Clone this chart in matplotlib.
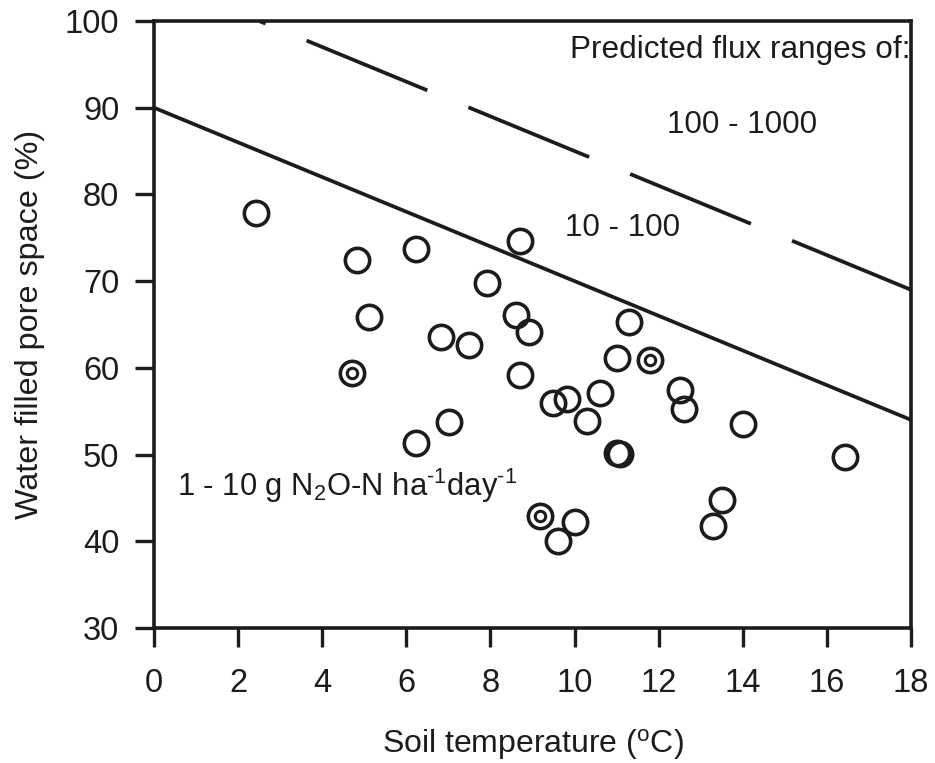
import matplotlib
matplotlib.use("Agg")
import matplotlib.pyplot as plt

plt.rcParams['font.family'] = ['Liberation Sans', 'DejaVu Sans']
plt.rcParams['mathtext.fontset'] = 'custom'
plt.rcParams['mathtext.rm'] = 'Liberation Sans'
plt.rcParams['mathtext.it'] = 'Liberation Sans'
plt.rcParams['mathtext.default'] = 'regular'
plt.rcParams['lines.scale_dashes'] = False

INK = '#1c1c1c'

# Soil temperature (deg C) and water filled pore space (%) for plain open circles
temp_open = [2.43, 4.82, 6.22, 8.70, 7.91, 5.12, 8.61, 8.92, 6.82, 7.50,
             11.30, 11.00, 8.70, 9.49, 9.81, 10.60, 10.30, 12.51, 12.60,
             6.23, 7.02, 11.01, 11.09, 14.01, 16.43, 10.01, 9.60, 13.50, 13.30]
wfps_open = [77.9, 72.4, 73.75, 74.6, 69.8, 65.9, 66.1, 64.1, 63.5, 62.6,
             65.3, 61.1, 59.2, 55.9, 56.4, 57.1, 53.9, 57.4, 55.2,
             51.3, 53.7, 50.2, 50.05, 53.5, 49.7, 42.2, 40.05, 44.8, 41.8]

# Observations drawn as double (concentric) circles
temp_ring = [4.72, 11.79, 9.19]
wfps_ring = [59.4, 60.85, 42.9]

# Boundary lines between predicted flux ranges
lower_x = [0, 18]
lower_y = [90, 54]
upper_x = [2.5, 18]
upper_y = [100, 69]

x_ticks = list(range(0, 19, 2))
y_ticks = list(range(30, 101, 10))

fig = plt.figure(figsize=(9.35, 7.63), dpi=100)
ax = fig.add_axes([0.1647, 0.177, 0.8096, 0.7955])

ax.plot(lower_x, lower_y, color=INK, lw=2.7, solid_capstyle='butt', zorder=2)
ax.plot(upper_x, upper_y, color=INK, lw=2.7, dash_capstyle='butt',
        linestyle=(89, (94, 32)), zorder=2)

ax.plot(temp_open, wfps_open, linestyle='none', marker='o', ms=17.5,
        mfc='none', mec=INK, mew=2.6, zorder=3)
ax.plot(temp_ring, wfps_ring, linestyle='none', marker='o', ms=17.5,
        mfc='none', mec=INK, mew=2.6, zorder=3)
ax.plot(temp_ring, wfps_ring, linestyle='none', marker='o', ms=7.5,
        mfc='none', mec=INK, mew=2.2, zorder=3)

ax.text(9.89, 95.7, 'Predicted flux ranges of:', fontsize=22.7, color=INK,
        va='baseline', ha='left', clip_on=True)
ax.text(12.2, 87.1, '100 - 1000', fontsize=22.6, color=INK, va='baseline', ha='left')
ax.text(9.77, 75.25, '10 - 100', fontsize=22.6, color=INK, va='baseline', ha='left')
ax.text(0.55, 45.2,
        '1 - 10 g N$_2$O-N ha$^{\u20101}$day$^{\u20101}$',
        fontsize=22.3, color=INK, va='baseline', ha='left')

ax.set_xlim(0, 18)
ax.set_ylim(30, 100)
ax.set_xticks(x_ticks)
ax.set_yticks(y_ticks)
ax.set_xticklabels([str(t) for t in x_ticks])
ax.set_yticklabels([str(t) for t in y_ticks])
ax.tick_params(direction='out', length=14, width=2.4, color=INK,
               labelsize=23.5, labelcolor=INK)
ax.tick_params(axis='x', pad=15)
ax.tick_params(axis='y', pad=11)
for sp in ax.spines.values():
    sp.set_linewidth(2.6)
    sp.set_color(INK)

ax.set_xlabel(r'Soil temperature ($^{\mathrm{o}}$C)', fontsize=23, color=INK, labelpad=20)
ax.set_ylabel('Water filled pore space (%)', fontsize=23.3, color=INK, labelpad=14)

fig.savefig('out.png', dpi=100, facecolor='white')
